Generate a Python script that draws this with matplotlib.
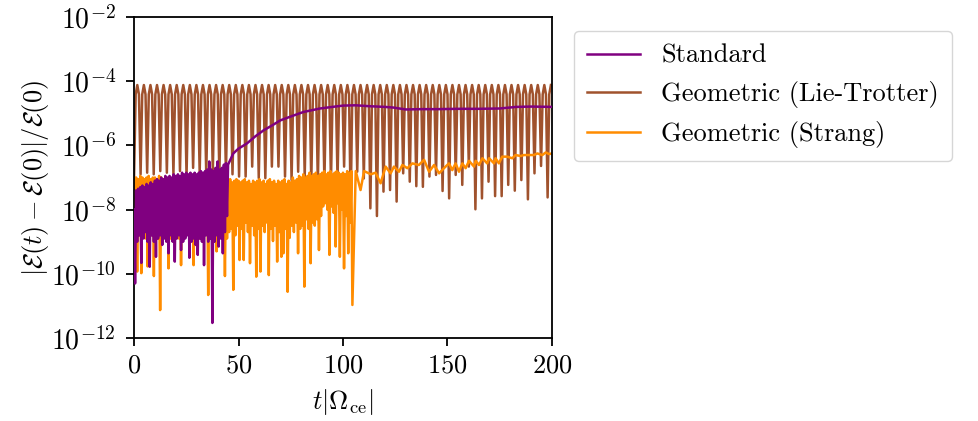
import matplotlib
matplotlib.use("Agg")
import matplotlib.pyplot as plt
import numpy as np
from matplotlib.ticker import NullLocator

plt.rcParams['font.family'] = 'serif'
plt.rcParams['font.serif'] = ['cmr10']
plt.rcParams['mathtext.fontset'] = 'cm'
plt.rcParams['axes.unicode_minus'] = False
plt.rcParams['axes.formatter.use_mathtext'] = True
plt.rcParams['font.size'] = 19

# --- Standard: noisy part (log10 values), tops at t=0..44, dips at t+0.5
std_top = [-8.0, -7.4, -7.35, -7.3, -7.25, -7.3, -7.2, -7.25, -7.15, -7.2,
           -7.1, -7.05, -7.1, -7.0, -7.05, -6.95, -7.0, -6.95, -7.0, -6.9,
           -6.95, -6.9, -6.95, -6.85, -6.9, -6.85, -6.9, -6.85, -6.9, -6.85,
           -6.9, -6.85, -6.8, -6.85, -6.8, -6.75, -6.5, -6.75, -6.8, -6.7,
           -6.5, -6.75, -6.7, -6.6, -6.55]
std_bot = [-10.3, -9.0, -8.8, -9.66, -8.9, -8.7, -9.0, -9.78, -8.8, -9.0,
           -9.47, -8.9, -8.8, -9.1, -8.9, -9.0, -9.36, -8.8, -9.0, -9.62,
           -8.9, -8.8, -9.26, -9.0, -8.9, -8.8, -9.5, -9.0, -8.9, -9.1,
           -9.41, -8.9, -9.0, -9.73, -8.8, -9.0, -8.9, -11.53, -9.0, -8.8,
           -9.15, -8.9, -9.36, -8.7, -8.2]
# smooth part
std_t2 = [45, 47.5, 50, 54, 58, 62, 66, 70, 75, 81, 89, 95, 100, 106, 113,
          120, 124, 130, 137, 145, 155, 165, 175, 183, 190, 200]
std_v2 = [-6.6, -6.25, -6.1, -5.94, -5.72, -5.53, -5.38, -5.22, -5.1, -4.96,
          -4.85, -4.8, -4.76, -4.75, -4.78, -4.8, -4.82, -4.88, -4.87, -4.87,
          -4.86, -4.86, -4.85, -4.8, -4.79, -4.8]

# --- Lie-Trotter: dips every pi, peaks in between
lt_period = np.pi
lt_peak = 7.6e-5
lt_shoulder = 3.9e-5
lt_trough = [-7.0, -6.9, -6.85, -6.9, -6.8, -6.85, -6.9, -6.8, -6.95, -6.7, -6.85, -6.9, -6.8, -6.9, -6.85, -6.9,
             -6.97, -6.97, -6.66, -7.02, -7.02, -6.66, -6.66, -6.97, -7.08, -6.82, -6.97, -7.13, -7.18, -7.13, -7.13, -7.08,
             -6.66, -7.91, -6.82, -7.03, -7.96, -8.2, -7.44, -7.39, -7.75, -6.87, -7.13, -7.27, -7.29, -6.97, -6.92, -7.42,
             -7.65, -6.92, -7.23, -6.66, -7.99, -7.65, -7.13, -7.58, -7.58, -7.23, -7.41, -7.08, -7.68, -6.87, -6.64, -7.62]

# --- Strang: noisy part, tops at t=0..104, dips at t+0.5
str_top = [-7.0, -7.0, -7.05, -6.95, -7.0, -7.05, -7.0, -6.95, -7.05, -7.0,
           -7.0, -7.05, -6.95, -7.0, -7.05, -7.0, -7.1, -7.0, -7.05, -7.0,
           -7.05, -7.0, -7.1, -7.0, -7.05, -7.0, -7.05, -7.1, -7.0, -7.05,
           -7.0, -7.05, -7.1, -7.0, -7.05, -7.0, -7.1, -7.05, -7.0, -7.05,
           -7.1, -7.0, -7.05, -7.1, -7.05, -7.1, -7.05, -7.15, -7.1, -7.05,
           -7.1, -7.15, -7.1, -7.05, -7.15, -7.1, -7.2, -7.1, -7.15, -7.1,
           -7.05, -7.15, -7.1, -7.2, -7.1, -7.05, -7.15, -7.1, -7.2, -7.1,
           -7.15, -7.1, -7.05, -7.2, -7.1, -7.15, -7.0, -7.1, -7.05, -6.95,
           -7.0, -6.9, -7.0, -6.95, -6.85, -6.95, -6.9, -6.85, -6.95, -6.9,
           -6.85, -6.8, -6.9, -6.85, -6.8, -6.9, -6.85, -6.8, -6.85, -6.9,
           -6.85, -6.9, -6.8, -6.85, -6.8]
str_bot = [-8.6, -9.93, -8.8, -9.98, -8.7, -8.9, -9.77, -8.6, -8.8, -10.07,
           -8.7, -8.9, -11.13, -8.6, -8.8, -8.7, -9.83, -8.9, -8.6, -8.8,
           -8.7, -8.9, -9.73, -8.6, -8.8, -8.7, -8.9, -8.6, -9.73, -8.8,
           -8.7, -8.9, -8.6, -8.8, -8.7, -10.66, -8.8, -8.6, -8.9, -9.3,
           -8.7, -8.8, -8.6, -10.07, -8.9, -8.7, -8.6, -10.5, -8.8, -8.5,
           -9.57, -8.6, -9.57, -8.4, -8.7, -9.67, -8.5, -8.8, -10.09, -8.6,
           -9.93, -8.5, -8.7, -8.4, -10.04, -8.6, -8.98, -8.5, -9.62, -8.7,
           -9.47, -9.36, -8.6, -10.56, -8.88, -8.5, -8.7, -8.4, -9.36, -8.6,
           -8.5, -10.4, -8.3, -8.6, -9.67, -8.4, -8.5, -8.3, -9.26, -8.2,
           -7.9, -7.8, -8.0, -9.41, -7.9, -8.1, -9.15, -7.8, -9.47, -8.0,
           -9.83, -8.2, -9.36, -8.4, -10.97]
# smoother part
str_t2 = [106.1, 108.4, 110.1, 113.3, 115.6, 118.0, 120.4, 122.8, 124.4, 126.8,
          128.4, 130.8, 133.2, 136.3, 138.8, 141.2, 143.6, 146.0, 148.3, 150.7,
          152.3, 153.9, 155.5, 157.1, 158.7, 160.3, 162.7, 163.5, 165.1, 166.7,
          169.0, 169.9, 172.3, 173.0, 174.6, 176.2, 178.6, 181.0, 182.6, 185.0,
          186.6, 189.0, 191.4, 193.0, 195.4, 197.0, 198.6, 200.0]
str_v2 = [-6.8, -7.39, -6.8, -6.9, -6.85, -7.18, -6.66, -6.87, -6.66, -6.82,
          -6.61, -6.71, -6.56, -6.61, -6.45, -6.82, -6.61, -6.87, -6.71, -6.56,
          -6.77, -6.56, -6.82, -6.56, -6.71, -6.48, -6.66, -6.48, -6.61, -6.4,
          -6.56, -6.4, -6.56, -6.4, -6.56, -6.35, -6.35, -6.4, -6.3, -6.33,
          -6.3, -6.3, -6.3, -6.25, -6.3, -6.22, -6.27, -6.25]


def interleave(tops, bots):
    t = np.empty(2 * len(tops))
    v = np.empty(2 * len(tops))
    t[0::2] = np.arange(len(tops))
    t[1::2] = np.arange(len(tops)) + 0.5
    v[0::2] = tops
    v[1::2] = bots
    return t, v


t1, v1 = interleave(std_top, std_bot)
t_std = np.concatenate([t1, std_t2])
y_std = 10.0 ** np.concatenate([v1, std_v2])

t1, v1 = interleave(str_top, str_bot)
t_str = np.concatenate([t1, str_t2])
y_str = 10.0 ** np.concatenate([v1, str_v2])

k = np.arange(len(lt_trough))
t_lt = np.stack([k * lt_period, (k + 0.25) * lt_period,
                 (k + 0.5) * lt_period, (k + 0.75) * lt_period], axis=1).ravel()
y_lt = np.stack([10.0 ** np.array(lt_trough), np.full(len(k), lt_shoulder),
                 np.full(len(k), lt_peak), np.full(len(k), lt_shoulder)], axis=1).ravel()
keep = t_lt <= 200
t_lt = t_lt[keep]
y_lt = y_lt[keep]

fig = plt.figure(figsize=(9.79, 4.21), dpi=100)
ax = fig.add_axes([0.1369, 0.1971, 0.4269, 0.7625])

ax.plot(t_std, y_std, color='purple', lw=1.8, zorder=3, label='Standard')
ax.plot(t_lt, y_lt, color='sienna', lw=1.8, zorder=1, label='Geometric (Lie-Trotter)')
ax.plot(t_str, y_str, color='darkorange', lw=1.8, zorder=2, label='Geometric (Strang)')

ax.set_yscale('log')
ax.set_xlim(0, 200)
ax.set_ylim(1e-12, 1e-2)
ax.set_xticks([0, 50, 100, 150, 200])
ax.set_yticks([1e-12, 1e-10, 1e-8, 1e-6, 1e-4, 1e-2])
ax.yaxis.set_minor_locator(NullLocator())
for s in ax.spines.values():
    s.set_linewidth(1.3)
ax.tick_params(width=1.3, length=6)
ax.tick_params(axis='y', pad=7, labelsize=20)
ax.tick_params(axis='x', pad=5)

ax.set_xlabel(r'$t|\Omega_{\mathrm{ce}}|$', labelpad=7)
ax.set_ylabel(r'$|\mathcal{E}(t) - \mathcal{E}(0)|/\mathcal{E}(0)$', labelpad=0)

fig.legend(loc='upper left', bbox_to_anchor=(0.5863, 0.9264), borderaxespad=0,
           borderpad=0.5)

fig.savefig('out.png', dpi=100)
